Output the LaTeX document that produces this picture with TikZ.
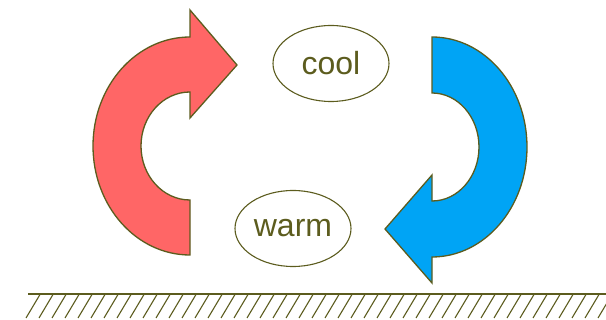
\documentclass[tikz,border=0pt]{standalone}
\usepackage{fontspec}
\setmainfont{Liberation Sans}
\usetikzlibrary{shapes.geometric}
\definecolor{olive}{RGB}{92,92,30}
\definecolor{warmred}{RGB}{255,102,102}
\definecolor{coolblue}{RGB}{0,164,245}
\tikzset{
  arrowshape/.style={draw=olive, line width=1.3pt, line join=miter},
  label/.style={ellipse, draw=olive, line width=1.1pt, inner sep=0pt,
    minimum width=116pt, minimum height=76pt, text=olive,
    font=\fontsize{32}{36}\selectfont},
  ground/.style={draw=olive, line width=1.3pt},
  hatch/.style={draw=olive, line width=1.1pt}
}
\begin{document}
\begin{tikzpicture}[x=1pt,y=-1pt]
\useasboundingbox (0,0) rectangle (606,320);
% red (warm air rising)
\path[arrowshape, fill=warmred]
  (190,37) -- (190,10) -- (237,65) -- (190,118) -- (190,92)
  arc[start angle=90, end angle=270, x radius=49pt, y radius=54pt]
  -- (190,255)
  arc[start angle=270, end angle=90, x radius=97pt, y radius=109pt]
  -- cycle;
% blue (cool air sinking)
\path[arrowshape, fill=coolblue]
  (432,37) -- (432,93)
  arc[start angle=90, end angle=-90, x radius=47pt, y radius=54pt]
  -- (432,175) -- (385,229) -- (432,283) -- (432,257)
  arc[start angle=-90, end angle=90, x radius=95pt, y radius=110pt]
  -- cycle;
% labels
\node[label] (cool) at (331,63.5) {cool};
\node[label] (warm) at (293,228.5) {warm};
% ground
\draw[ground] (28,294) -- (606,294);
\foreach \x in {40,53,...,620} {
  \draw[hatch] (\x,294.5) -- (\x-14,318);
}
\end{tikzpicture}
\end{document}
